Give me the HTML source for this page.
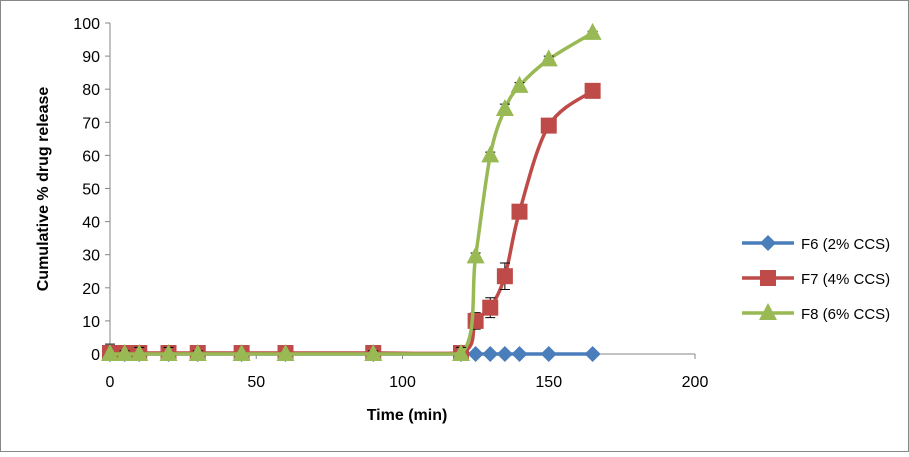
<!DOCTYPE html>
<html><head><meta charset="utf-8"><style>
body{margin:0;background:#fff;font-family:"Liberation Sans",sans-serif}
#wrap{position:relative;width:909px;height:452px}
</style></head><body>
<div id="wrap">
<svg id="chart" width="909" height="452"></svg>
</div>
<script>
const times=[0,5,10,20,30,45,60,90,120,125,130,135,140,150,165];
const f6=[0,0,0,0,0,0,0,0,0,0,0,0,0,0,0];
const f7=[0.3,0.3,0.3,0.3,0.3,0.3,0.3,0.3,0.3,10,14,23.5,43,69,79.5];
const f8=[0,0,0,0,0,0,0,0,0,29.5,60,74,81,89,97];
const f7err=[2,1.5,1.5,1.5,1,0,0,1,1,2.5,3,4,0,0,0];
const f8err=[3,1,2,2,1,0,0,1,2,1,1,1.5,1,1,0.5];
const xTicks=[0,50,100,150,200];
const yTicks=[0,10,20,30,40,50,60,70,80,90,100];
const NS="http://www.w3.org/2000/svg";
const svg=document.getElementById('chart');
const X=v=>110+v*2.925, Y=v=>354-v*3.31;
function el(t,a,p){const e=document.createElementNS(NS,t);for(const k in a)e.setAttribute(k,a[k]);(p||svg).appendChild(e);return e;}
const border=el('rect',{x:0.5,y:0.5,width:908,height:451,fill:'#fff',stroke:'#888'});


const ax=el('path',{d:`M${X(0)},${Y(100)}V${Y(0)}H${X(200)}`,stroke:'#868686',fill:'none'});


yTicks.forEach(v=>{el('line',{x1:X(0)-5,x2:X(0),y1:Y(v),y2:Y(v),stroke:'#868686'});
const t=el('text',{x:X(0)-10,y:Y(v)+6,'text-anchor':'end','font-size':16,fill:'#000'});t.textContent=v;

});
xTicks.forEach(v=>{el('line',{x1:X(v),x2:X(v),y1:Y(0),y2:Y(0)+5,stroke:'#868686'});
const t=el('text',{x:X(v),y:Y(0)+33,'text-anchor':'middle','font-size':16,fill:'#000'});t.textContent=v;

});
const xt=el('text',{x:407,y:420,'text-anchor':'middle','font-size':16,'font-weight':'bold'});xt.textContent='Time (min)';


const yt=el('text',{x:0,y:0,'text-anchor':'middle','font-size':16,'font-weight':'bold',transform:'translate(48,189) rotate(-90)'});yt.textContent='Cumulative % drug release';


const base=Y(0);
function smooth(pts){let d=`M${pts[0][0]},${pts[0][1]}`;for(let i=0;i<pts.length-1;i++){const p0=pts[Math.max(0,i-1)],p1=pts[i],p2=pts[i+1],p3=pts[Math.min(pts.length-1,i+2)];const t=1/6;
const c1y=Math.min(base,p1[1]+(p2[1]-p0[1])*t), c2y=Math.min(base,p2[1]-(p3[1]-p1[1])*t);
d+=`C${p1[0]+(p2[0]-p0[0])*t},${c1y} ${p2[0]-(p3[0]-p1[0])*t},${c2y} ${p2[0]},${p2[1]}`;}return d;}
function marker(type,x,y,c,g){if(type==='d')return el('path',{d:`M${x},${y-8}L${x+8},${y}L${x},${y+8}L${x-8},${y}Z`,fill:c},g);
if(type==='s')return el('rect',{x:x-8,y:y-8,width:16,height:16,fill:c},g);
return el('path',{d:`M${x},${y-10}L${x+9},${y+7}L${x-9},${y+7}Z`,fill:c},g);}
const series=[{name:'f6',vals:f6,err:null,c:'#4a7ebb',m:'d',label:'F6 (2% CCS)'},
{name:'f7',vals:f7,err:f7err,c:'#be4b48',m:'s',label:'F7 (4% CCS)'},
{name:'f8',vals:f8,err:f8err,c:'#98b954',m:'t',label:'F8 (6% CCS)'}];
series.forEach((s,si)=>{const g=el('g',{});


const pts=times.map((t,i)=>[X(t),Y(s.vals[i])]);
el('path',{d:smooth(pts),stroke:s.c,'stroke-width':3.5,fill:'none'},g);
if(s.err)times.forEach((t,i)=>{const x=X(t),y=Y(s.vals[i]),y2=Y(s.vals[i]+s.err[i]),y3=Math.min(base,Y(s.vals[i]-s.err[i]));
el('path',{d:`M${x},${y3}V${y2}M${x-5},${y2}H${x+5}M${x-5},${y3}H${x+5}`,stroke:'#000','stroke-width':1},g);});
pts.forEach(p=>{const m=marker(s.m,p[0],p[1],s.c,g);

});
const ly=243+si*35, lg=el('g',{});


el('line',{x1:742,x2:794,y1:ly,y2:ly,stroke:s.c,'stroke-width':3.5},lg);
marker(s.m,768,ly,s.c,lg);
const lt=el('text',{x:801,y:ly+6,'font-size':15},lg);lt.textContent=s.label;});
</script>
</body></html>
